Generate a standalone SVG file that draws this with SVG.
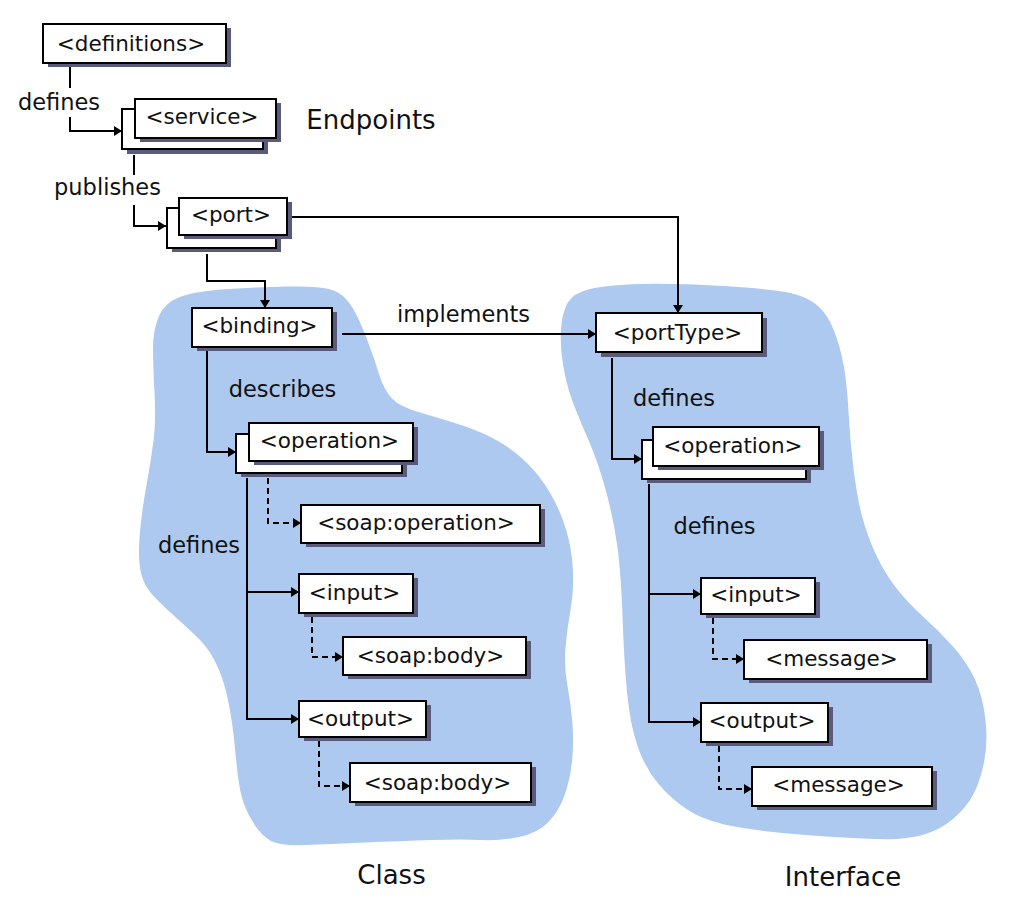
<svg xmlns="http://www.w3.org/2000/svg" width="1024" height="918" viewBox="0 0 1024 918">
<style>
.box{fill:#fff;stroke:#000;stroke-width:2}
.sh{fill:#5a5a7c}
.t{font-family:"DejaVu Sans",sans-serif;font-size:21.5px;fill:#111;text-anchor:middle}
.lbl{font-size:22.5px}
.big{font-size:26px}
.ln{fill:none;stroke:#000;stroke-width:2}
.ar{marker-end:url(#ah)}
.dash{stroke-dasharray:6 4}
.blob{fill:#adc9ef}
</style>
<defs>
<marker id="ah" markerUnits="userSpaceOnUse" markerWidth="9" markerHeight="10" refX="8" refY="5" orient="auto">
<path d="M0,0 L8,5 L0,10 z" fill="#000"/>
</marker>
</defs>
<rect width="1024" height="918" fill="#fff"/>
<g id="blobs">
<path class="blob" d="M181,296.5 Q197,291 228.5,289 Q260,287 289,286.5 Q318,286 329,289 Q340,292 346.5,299.5 Q353,307 358.5,319 Q364,331 369,344.5 Q374,358 379,374 Q384,390 392,398.5 Q400,407 421.5,413 Q443,419 462.5,425.5 Q482,432 498,441 Q514,450 527.5,463.5 Q541,477 551,494.5 Q561,512 566.5,531 Q572,550 573,570.5 Q574,591 570.5,610 Q567,629 565.5,648 Q564,667 567.5,686 Q571,705 572.5,724 Q574,743 572,761.5 Q570,780 564.5,795.5 Q559,811 548.5,822 Q538,833 519,837 Q500,841 481.5,840 Q463,839 431.5,840 Q400,841 365,842.5 Q330,844 305,845 Q280,846 271,841 Q262,836 255,825.5 Q248,815 244,804 Q240,793 238,776.5 Q236,760 234.5,743.5 Q233,727 229,705 Q225,683 217.5,666.5 Q210,650 200,640 Q190,630 176.5,618 Q163,606 153.5,596 Q144,586 141,573 Q138,560 139.5,538 Q141,516 146,488 Q151,460 153.5,440.5 Q156,421 154.5,393 Q153,365 153,347.5 Q153,330 159,316 Q165,302 181,296.5 Z"/>
<path class="blob" d="M590,289 Q607,285 640,284 Q673,283 723,286 Q773,289 790.5,293 Q808,297 818,306 Q828,315 834,330.5 Q840,346 843.5,364.5 Q847,383 848.5,411.5 Q850,440 853.5,468.5 Q857,497 862,516 Q867,535 875.5,553.5 Q884,572 895.5,587 Q907,602 922.5,616 Q938,630 952.5,646 Q967,662 975,679.5 Q983,697 985.5,720 Q988,743 984,762.5 Q980,782 973,795 Q966,808 953,819 Q940,830 922.5,835 Q905,840 877.5,839 Q850,838 811.5,835.5 Q773,833 740,827.5 Q707,822 689.5,811 Q672,800 658.5,784 Q645,768 637.5,746 Q630,724 627,692 Q624,660 622.5,616 Q621,572 617,544 Q613,516 605,487.5 Q597,459 587,436.5 Q577,414 571.5,398.5 Q566,383 563,364.5 Q560,346 561,329.5 Q562,313 567.5,303 Q573,293 590,289 Z"/>
</g>
<g id="connectors">
<path class="ln" d="M70,66 V88"/>
<path class="ln ar" d="M70,117 V131 H122"/>
<path class="ln" d="M134,155 V175"/>
<path class="ln ar" d="M134,205 V226 H166"/>
<path class="ln ar" d="M207,254 V281 H265 V308"/>
<path class="ln ar" d="M292,217 H678 V313"/>
<path class="ln ar" d="M342,334 H596"/>
<path class="ln ar" d="M207,351 V452 H236"/>
<path class="ln dash ar" d="M268,478 V523 H301"/>
<path class="ln ar" d="M247,478 V719 H299"/>
<path class="ln ar" d="M247,592 H299"/>
<path class="ln dash ar" d="M312,617 V657 H343"/>
<path class="ln dash ar" d="M319,741 V786 H350"/>
<path class="ln ar" d="M612,358 V459 H642"/>
<path class="ln ar" d="M649,484 V722 H701"/>
<path class="ln ar" d="M649,594 H701"/>
<path class="ln dash ar" d="M713,618 V659 H744"/>
<path class="ln dash ar" d="M719,746 V789 H752"/>
</g>
<g id="labels">
<text class="t lbl" x="59" y="110">defines</text>
<text class="t lbl" x="107.5" y="195">publishes</text>
<text class="t lbl" x="463.5" y="322">implements</text>
<text class="t lbl" x="282.5" y="397">describes</text>
<text class="t lbl" x="199" y="553">defines</text>
<text class="t lbl" x="674" y="406">defines</text>
<text class="t lbl" x="714.5" y="534">defines</text>
<text class="t big" x="371" y="129">Endpoints</text>
<text class="t big" x="391.5" y="884">Class</text>
<text class="t big" x="843" y="886">Interface</text>
</g>
<g id="definitions">
<rect class="sh" x="48" y="28" width="183" height="39"/>
<rect class="box" x="43" y="24" width="183" height="39"/>
<text class="t" x="131" y="51">&lt;definitions&gt;</text>
</g>
<g id="service">
<rect class="sh" x="127" y="114" width="141" height="40"/>
<rect class="box" x="122" y="109" width="141" height="40"/>
<rect class="sh" x="140" y="103" width="141" height="39"/>
<rect class="box" x="135" y="99" width="141" height="39"/>
<text class="t" x="202" y="124">&lt;service&gt;</text>
</g>
<g id="port">
<rect class="sh" x="172" y="212" width="109" height="40"/>
<rect class="box" x="167" y="208" width="109" height="40"/>
<rect class="sh" x="184" y="202" width="108" height="37"/>
<rect class="box" x="179" y="198" width="108" height="37"/>
<text class="t" x="231" y="222">&lt;port&gt;</text>
</g>
<g id="binding">
<rect class="sh" x="197" y="312" width="140" height="39"/>
<rect class="box" x="192" y="308" width="140" height="39"/>
<text class="t" x="259.5" y="333">&lt;binding&gt;</text>
</g>
<g id="operation-class">
<rect class="sh" x="241" y="438" width="166" height="39"/>
<rect class="box" x="236" y="434" width="166" height="39"/>
<rect class="sh" x="254" y="427" width="164" height="38"/>
<rect class="box" x="249" y="423" width="164" height="38"/>
<text class="t" x="329.5" y="448">&lt;operation&gt;</text>
</g>
<g id="soap-operation">
<rect class="sh" x="306" y="509" width="239" height="38"/>
<rect class="box" x="301" y="505" width="239" height="38"/>
<text class="t" x="416" y="530">&lt;soap:operation&gt;</text>
</g>
<g id="input-class">
<rect class="sh" x="304" y="578" width="114" height="39"/>
<rect class="box" x="299" y="574" width="114" height="39"/>
<text class="t" x="354.5" y="600">&lt;input&gt;</text>
</g>
<g id="soap-body-1">
<rect class="sh" x="348" y="641" width="183" height="38"/>
<rect class="box" x="343" y="637" width="183" height="38"/>
<text class="t" x="430.5" y="663">&lt;soap:body&gt;</text>
</g>
<g id="output-class">
<rect class="sh" x="304" y="705" width="127" height="36"/>
<rect class="box" x="299" y="701" width="127" height="36"/>
<text class="t" x="360.5" y="726">&lt;output&gt;</text>
</g>
<g id="soap-body-2">
<rect class="sh" x="355" y="767" width="181" height="39"/>
<rect class="box" x="350" y="763" width="181" height="39"/>
<text class="t" x="437.5" y="790">&lt;soap:body&gt;</text>
</g>
<g id="portType">
<rect class="sh" x="601" y="318" width="166" height="39"/>
<rect class="box" x="596" y="313" width="166" height="39"/>
<text class="t" x="677.5" y="340">&lt;portType&gt;</text>
</g>
<g id="operation-interface">
<rect class="sh" x="647" y="444" width="164" height="39"/>
<rect class="box" x="642" y="440" width="164" height="39"/>
<rect class="sh" x="658" y="431" width="166" height="39"/>
<rect class="box" x="653" y="427" width="166" height="39"/>
<text class="t" x="733" y="453">&lt;operation&gt;</text>
</g>
<g id="input-interface">
<rect class="sh" x="706" y="582" width="114" height="36"/>
<rect class="box" x="701" y="578" width="114" height="36"/>
<text class="t" x="756" y="602">&lt;input&gt;</text>
</g>
<g id="message-1">
<rect class="sh" x="749" y="644" width="183" height="39"/>
<rect class="box" x="744" y="640" width="183" height="39"/>
<text class="t" x="831.5" y="666">&lt;message&gt;</text>
</g>
<g id="output-interface">
<rect class="sh" x="706" y="707" width="127" height="39"/>
<rect class="box" x="701" y="703" width="127" height="39"/>
<text class="t" x="762" y="728">&lt;output&gt;</text>
</g>
<g id="message-2">
<rect class="sh" x="757" y="771" width="180" height="39"/>
<rect class="box" x="752" y="767" width="180" height="39"/>
<text class="t" x="838.5" y="792">&lt;message&gt;</text>
</g>
</svg>
